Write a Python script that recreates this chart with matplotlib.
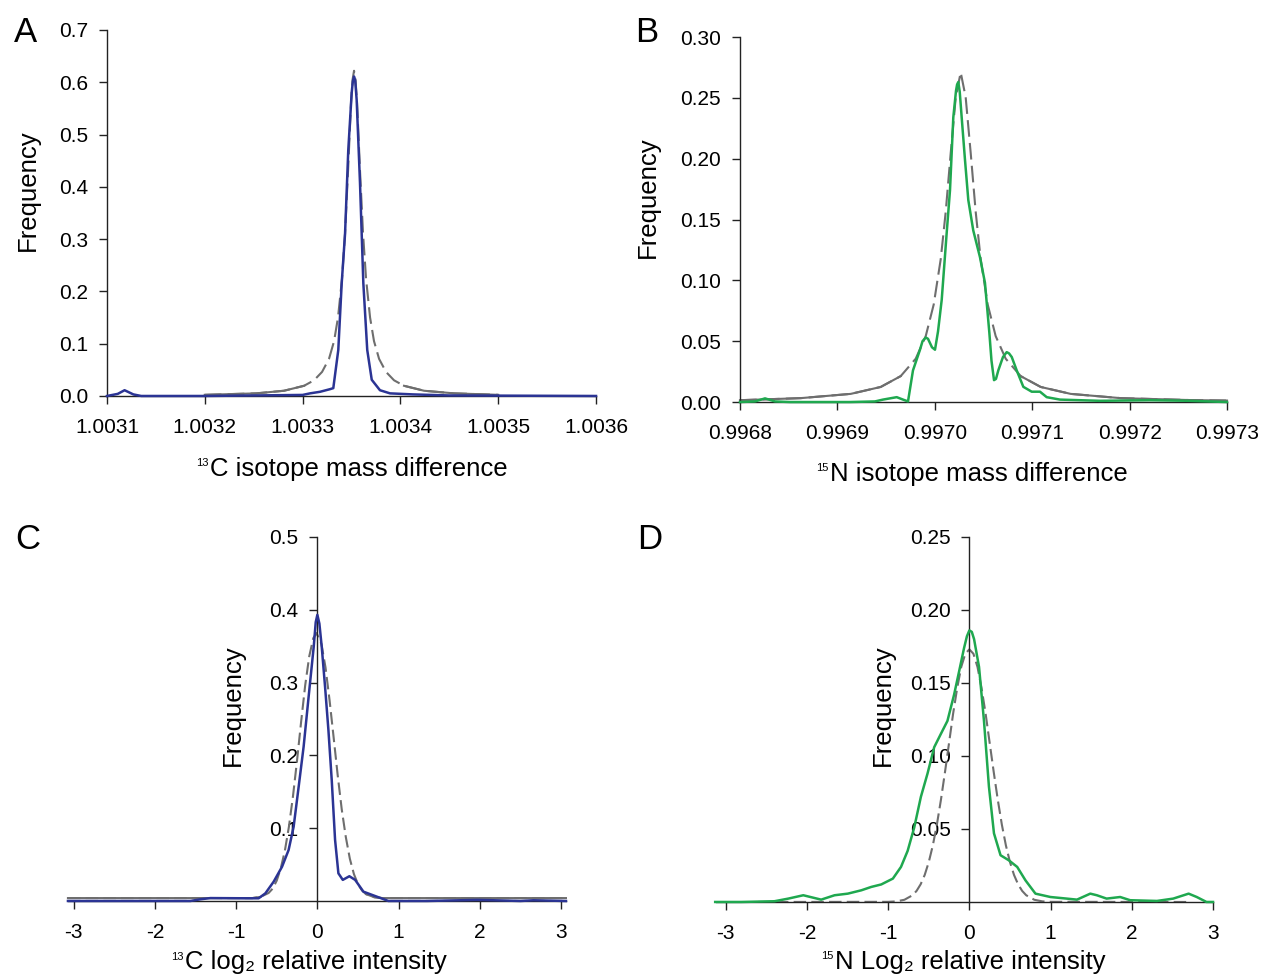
import matplotlib
matplotlib.use('Agg')
import matplotlib.pyplot as plt
import numpy as np

plt.rcParams['font.family'] = ['Liberation Sans', 'DejaVu Sans']
plt.rcParams['axes.unicode_minus'] = False

BLUE = '#2b3494'
GREEN = '#1fa84f'
GRAY = '#6e6e6e'

# A: 13C isotope mass difference
c13_mass_x = [1.00310, 1.003111, 1.003118, 1.003127, 1.003135, 1.00320, 1.00330, 1.0033076,
              1.0033178, 1.0033280, 1.0033314, 1.0033365, 1.0033400, 1.0033434, 1.0033467,
              1.0033502, 1.0033514, 1.0033526, 1.0033538, 1.0033553, 1.0033587, 1.0033621,
              1.0033661, 1.0033707, 1.0033791, 1.0033894, 1.0034129, 1.00345, 1.0036]
c13_mass_y = [0.0, 0.004, 0.011, 0.003, 0.0, 0.0, 0.002, 0.005, 0.008, 0.013, 0.015, 0.088,
              0.216, 0.31, 0.47, 0.58, 0.602, 0.611, 0.603, 0.566, 0.407, 0.216, 0.088, 0.031,
              0.011, 0.005, 0.003, 0.001, 0.0]
c13_mass_fit_x = [1.00320, 1.0032526, 1.0032810, 1.0033015, 1.0033117, 1.0033199, 1.0033270,
                  1.0033322, 1.0033362, 1.0033403, 1.0033434, 1.0033465, 1.0033495, 1.0033511,
                  1.0033526, 1.0033541, 1.0033557, 1.0033587, 1.0033618, 1.0033649, 1.0033690,
                  1.0033730, 1.0033782, 1.0033853, 1.0033935, 1.0034037, 1.0034242, 1.0034549,
                  1.00350]
c13_mass_fit_y = [0.0022, 0.005, 0.010, 0.0195, 0.030, 0.046, 0.071, 0.105, 0.150, 0.224, 0.311,
                  0.431, 0.560, 0.605, 0.622, 0.605, 0.560, 0.431, 0.311, 0.224, 0.150, 0.105,
                  0.071, 0.046, 0.030, 0.0195, 0.010, 0.005, 0.0022]
c13_mass_ticks = [1.0031, 1.0032, 1.0033, 1.0034, 1.0035, 1.0036]
c13_mass_labels = ['1.0031', '1.0032', '1.0033', '1.0034', '1.0035', '1.0036']

# B: 15N isotope mass difference
n15_mass_x = [0.99680, 0.9968154, 0.9968257, 0.9968359, 0.9968513, 0.9969129, 0.9969386,
              0.9969468, 0.9969609, 0.9969674, 0.9969725, 0.9969776, 0.9969848, 0.9969874,
              0.9969907, 0.9969930, 0.9969971, 0.9970002, 0.9970033, 0.9970071, 0.9970122,
              0.9970156, 0.9970190, 0.9970218, 0.9970229, 0.9970241, 0.9970256, 0.9970276,
              0.9970310, 0.9970344, 0.9970395, 0.9970464, 0.9970515, 0.9970560, 0.9970582,
              0.9970608, 0.9970628, 0.9970652, 0.9970700, 0.9970738, 0.9970762, 0.9970790,
              0.9970841, 0.9970909, 0.9970995, 0.9971080, 0.9971149, 0.9971285, 0.9971696,
              0.9972209, 0.9972620, 0.99730]
n15_mass_y = [0.0, 0.0005, 0.003, 0.0005, 0.0, 0.0, 0.0005, 0.002, 0.004, 0.002, 0.0005, 0.026,
              0.043, 0.050, 0.053, 0.052, 0.045, 0.043, 0.058, 0.084, 0.139, 0.174, 0.234, 0.256,
              0.261, 0.263, 0.255, 0.234, 0.199, 0.166, 0.141, 0.119, 0.098, 0.057, 0.034, 0.018,
              0.019, 0.026, 0.037, 0.041, 0.040, 0.037, 0.026, 0.0125, 0.0085, 0.0085, 0.004,
              0.002, 0.001, 0.0015, 0.001, 0.0]
n15_mass_fit_x = [0.99680, 0.9968623, 0.9969137, 0.9969445, 0.9969650, 0.9969804, 0.9969907,
                  0.9969989, 0.9970061, 0.9970112, 0.9970163, 0.9970215, 0.9970266, 0.9970317,
                  0.9970369, 0.9970420, 0.9970471, 0.9970543, 0.9970625, 0.9970728, 0.9970882,
                  0.9971087, 0.9971395, 0.9971909, 0.9972627, 0.99730]
n15_mass_fit_y = [0.0015, 0.0032, 0.0067, 0.0124, 0.0213, 0.0356, 0.0542, 0.0802, 0.1175, 0.1562,
                  0.2043, 0.2505, 0.271, 0.2505, 0.2043, 0.1562, 0.1175, 0.0802, 0.0542, 0.0356,
                  0.0213, 0.0124, 0.0067, 0.0032, 0.0016, 0.0012]
n15_mass_ticks = [0.9968, 0.9969, 0.9970, 0.9971, 0.9972, 0.9973]
n15_mass_labels = ['0.9968', '0.9969', '0.9970', '0.9971', '0.9972', '0.9973']

# C: 13C log2 relative intensity
c13_int_x = [-3.07, -2.55, -1.93, -1.563, -1.44, -1.317, -0.866, -0.723, -0.640, -0.538, -0.435,
             -0.354, -0.292, -0.230, -0.169, -0.107, -0.045, -0.02, 0.0, 0.025, 0.054, 0.095,
             0.136, 0.177, 0.218, 0.259, 0.313, 0.394, 0.465, 0.567, 0.731, 0.874, 1.35, 1.966,
             2.17, 2.50, 2.66, 3.06]
c13_int_y = [0.0, 0.0, 0.0, 0.0, 0.0023, 0.004, 0.0037, 0.0037, 0.0105, 0.0265, 0.047, 0.070,
             0.102, 0.157, 0.212, 0.281, 0.349, 0.383, 0.393, 0.381, 0.349, 0.294, 0.235, 0.166,
             0.084, 0.038, 0.029, 0.034, 0.029, 0.0128, 0.006, 0.0, 0.0, 0.0015, 0.001, 0.0,
             0.001, 0.0]
c13_int_fit_x = [-3.07, -1.0, -0.8, -0.7, -0.6, -0.55, -0.5, -0.45, -0.4, -0.35, -0.3, -0.25,
                 -0.2, -0.15, -0.1, -0.05, -0.01, 0.05, 0.1, 0.15, 0.2, 0.25, 0.3, 0.35, 0.4,
                 0.45, 0.5, 0.55, 0.6, 0.7, 0.8, 1.0, 3.06]
c13_int_fit_y = [0.004, 0.004, 0.004, 0.0056, 0.011, 0.017, 0.028, 0.045, 0.069, 0.102, 0.144,
                 0.193, 0.246, 0.296, 0.336, 0.361, 0.368, 0.353, 0.321, 0.276, 0.225, 0.173,
                 0.126, 0.088, 0.058, 0.037, 0.023, 0.0144, 0.0094, 0.0052, 0.004, 0.004, 0.004]

# D: 15N log2 relative intensity
n15_int_x = [-3.13, -2.81, -2.40, -2.23, -2.045, -1.825, -1.66, -1.497, -1.33, -1.208, -1.085,
             -0.942, -0.842, -0.76, -0.679, -0.597, -0.515, -0.433, -0.352, -0.27, -0.188,
             -0.126, -0.065, -0.03, 0.0, 0.03, 0.058, 0.119, 0.18, 0.241, 0.303, 0.384, 0.487,
             0.589, 0.691, 0.814, 0.998, 1.2, 1.325, 1.489, 1.57, 1.69, 1.857, 1.98, 2.31, 2.51,
             2.70, 2.80, 2.92, 3.0]
n15_int_y = [0.0, 0.0, 0.0005, 0.0023, 0.0046, 0.0016, 0.0046, 0.0057, 0.008, 0.0103, 0.012,
             0.016, 0.024, 0.035, 0.051, 0.072, 0.088, 0.106, 0.115, 0.124, 0.142, 0.158, 0.174,
             0.182, 0.186, 0.185, 0.180, 0.161, 0.124, 0.079, 0.047, 0.032, 0.0285, 0.024,
             0.0148, 0.0057, 0.0034, 0.0023, 0.0016, 0.0057, 0.0046, 0.0023, 0.0034, 0.0012,
             0.0007, 0.0023, 0.0057, 0.0034, 0.0, 0.0]
n15_int_fit_x = [-2.6, -1.0, -0.9, -0.8, -0.7, -0.65, -0.6, -0.55, -0.5, -0.45, -0.4, -0.35,
                 -0.3, -0.25, -0.2, -0.15, -0.1, -0.05, 0.0, 0.05, 0.1, 0.15, 0.2, 0.25, 0.3,
                 0.35, 0.4, 0.45, 0.5, 0.55, 0.6, 0.65, 0.7, 0.8, 0.9, 1.0, 2.7]
n15_int_fit_y = [0.0, 0.0001, 0.0004, 0.0015, 0.0046, 0.0076, 0.0121, 0.0185, 0.0273, 0.0387,
                 0.053, 0.070, 0.089, 0.109, 0.129, 0.1465, 0.161, 0.170, 0.173, 0.170, 0.161,
                 0.1465, 0.129, 0.109, 0.089, 0.070, 0.053, 0.0387, 0.0273, 0.0185, 0.0121,
                 0.0076, 0.0046, 0.0015, 0.0004, 0.0001, 0.0]

int_ticks = [-3, -2, -1, 0, 1, 2, 3]

TICK_FS = 15
LABEL_FS = 18.5


def style_axes(ax):
    ax.spines['top'].set_visible(False)
    ax.spines['right'].set_visible(False)
    for s in ('left', 'bottom'):
        ax.spines[s].set_linewidth(1.0)
        ax.spines[s].set_color('#222222')
    ax.tick_params(direction='out', length=6, width=1.0, color='#222222',
                   labelsize=TICK_FS)
    ax.tick_params(axis='x', pad=10)
    ax.tick_params(axis='y', pad=7.5)


def draw_fit(ax, x, y, thr, dashes):
    x = np.array(x)
    y = np.array(y)
    ax.plot(x, y, color=GRAY, lw=1.5, dashes=dashes, clip_on=False, zorder=2)
    if thr > 0:
        ym = np.ma.masked_where(y > thr, y)
        ax.plot(x, ym, color=GRAY, lw=1.5, clip_on=False, zorder=2)


def add_sup(ax, text):
    ax.annotate(text, xy=(0, 1), xycoords=ax.xaxis.label, xytext=(-1, -1),
                textcoords='offset points', ha='right', va='top', fontsize=8)


fig = plt.figure(figsize=(12.63, 9.77), dpi=100)

# A
axA = fig.add_axes([0.0847, 0.5947, 0.3872, 0.3746])
style_axes(axA)
draw_fit(axA, c13_mass_fit_x, c13_mass_fit_y, 0.025, (8, 3))
axA.plot(c13_mass_x, c13_mass_y, color=BLUE, lw=1.8, clip_on=False, zorder=3)
axA.set_xlim(1.0031, 1.0036)
axA.set_ylim(0, 0.7)
axA.set_xticks(c13_mass_ticks)
axA.set_xticklabels(c13_mass_labels)
axA.set_yticks(np.arange(0, 0.71, 0.1))
axA.set_yticklabels(['%.1f' % v for v in np.arange(0, 0.71, 0.1)])
axA.set_xlabel('C isotope mass difference', fontsize=LABEL_FS)
axA.xaxis.set_label_coords(0.515, -0.167)
axA.set_ylabel('Frequency', fontsize=LABEL_FS)
axA.yaxis.set_label_coords(-0.137, 0.563)
add_sup(axA, '13')

# B
axB = fig.add_axes([0.5859, 0.5885, 0.3856, 0.3736])
style_axes(axB)
draw_fit(axB, n15_mass_fit_x, n15_mass_fit_y, 0.028, (8, 3))
axB.plot(n15_mass_x, n15_mass_y, color=GREEN, lw=1.8, clip_on=False, zorder=3)
axB.set_xlim(0.9968, 0.9973)
axB.set_ylim(0, 0.30)
axB.set_xticks(n15_mass_ticks)
axB.set_xticklabels(n15_mass_labels)
axB.set_yticks(np.arange(0, 0.301, 0.05))
axB.set_yticklabels(['%.2f' % v for v in np.arange(0, 0.301, 0.05)])
axB.set_xlabel('N isotope mass difference', fontsize=LABEL_FS)
axB.xaxis.set_label_coords(0.491, -0.164)
axB.set_ylabel('Frequency', fontsize=LABEL_FS)
axB.yaxis.set_label_coords(-0.164, 0.562)
add_sup(axB, '15')

# C
axC = fig.add_axes([0.0538, 0.0778, 0.3943, 0.3726])
style_axes(axC)
axC.spines['left'].set_position(('data', 0))
draw_fit(axC, c13_int_fit_x, c13_int_fit_y, 0.0095, (6, 2.5))
axC.plot(c13_int_x, c13_int_y, color=BLUE, lw=1.8, clip_on=False, zorder=3)
axC.set_xlim(-3.07, 3.06)
axC.set_ylim(0, 0.5)
axC.set_xticks(int_ticks)
axC.set_xticklabels([str(t) for t in int_ticks])
axC.set_yticks([0.1, 0.2, 0.3, 0.4, 0.5])
axC.set_yticklabels(['0.1', '0.2', '0.3', '0.4', '0.5'])
axC.set_xlabel('C log\u2082 relative intensity', fontsize=LABEL_FS)
axC.xaxis.set_label_coords(0.498, -0.135)
axC.set_ylabel('Frequency', fontsize=LABEL_FS)
axC.yaxis.set_label_coords(0.355, 0.538)
add_sup(axC, '13')

# D
axD = fig.add_axes([0.5669, 0.0768, 0.3935, 0.3736])
style_axes(axD)
axD.spines['left'].set_position(('data', 0))
draw_fit(axD, n15_int_fit_x, n15_int_fit_y, 0, (6, 2.5))
axD.plot(n15_int_x, n15_int_y, color=GREEN, lw=1.8, clip_on=False, zorder=3)
axD.set_xlim(-3.12, 3.0)
axD.set_ylim(0, 0.25)
axD.set_xticks(int_ticks)
axD.set_xticklabels([str(t) for t in int_ticks])
axD.set_yticks([0.05, 0.10, 0.15, 0.20, 0.25])
axD.set_yticklabels(['0.05', '0.10', '0.15', '0.20', '0.25'])
axD.set_xlabel('N Log\u2082 relative intensity', fontsize=LABEL_FS)
axD.xaxis.set_label_coords(0.511, -0.131)
axD.set_ylabel('Frequency', fontsize=LABEL_FS)
axD.yaxis.set_label_coords(0.36, 0.54)
add_sup(axD, '15')

# panel letters
for letter, px, py in [('A', 0.0198, 0.9672), ('B', 0.5123, 0.9672),
                       ('C', 0.0222, 0.4473), ('D', 0.5146, 0.4473)]:
    fig.text(px, py, letter, fontsize=25, ha='center', va='center')

fig.savefig('out.png', dpi=100)
